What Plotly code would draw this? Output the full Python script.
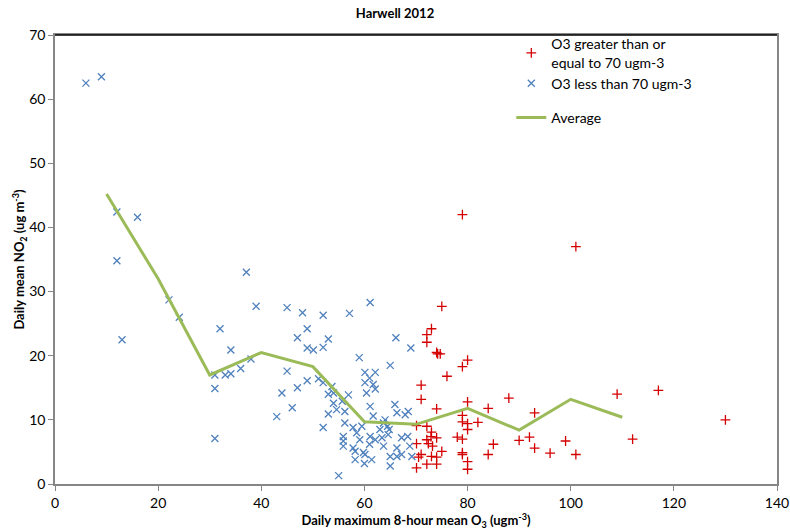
import plotly.graph_objects as go

# O3 >= 70 ugm-3 (red +)
hi_o3 = [79.0, 101.0, 75.0, 80.0, 79.0, 76.0, 74.7, 80.0, 84.0, 88.0, 109.0, 79.0, 79.0, 80.0, 82.0,
         80.0, 78.0, 79.0, 75.0, 79.0, 79.0, 80.0, 80.0, 84.0, 85.0, 90.0, 92.0, 93.0, 93.0, 96.0,
         99.0, 101.0, 117.0, 130.0, 112.0,
         73.0, 72.1, 72.1, 74.0, 74.2, 71.0, 71.0, 74.0, 70.1, 72.1, 73.0, 72.9, 74.0, 72.1, 70.1,
         72.4, 73.2, 71.0, 70.5, 73.0, 74.0, 72.1, 74.0, 70.1]
hi_no2 = [42.0, 37.0, 27.7, 19.3, 18.3, 16.8, 20.3, 12.8, 11.8, 13.4, 14.0, 10.7, 9.7, 9.4, 9.6,
          8.5, 7.3, 7.0, 5.1, 4.9, 4.6, 3.5, 2.3, 4.6, 6.2, 6.8, 7.3, 11.1, 5.6, 4.8,
          6.7, 4.6, 14.6, 10.0, 7.0,
          24.2, 23.3, 22.1, 20.5, 20.3, 15.4, 13.2, 11.7, 9.1, 9.0, 8.1, 7.4, 7.2, 6.9, 6.3,
          6.3, 5.9, 4.6, 4.2, 4.3, 4.2, 3.1, 3.1, 2.5]

# O3 < 70 ugm-3 (blue x)
lo_o3 = [6.0, 9.0, 12.0, 16.0, 12.0, 13.0, 22.1, 24.1, 37.1, 39.0, 45.0, 48.0, 52.0, 32.0, 48.9,
         47.0, 53.0, 34.1, 48.9, 50.1, 52.0, 38.0, 36.0, 31.0, 33.0, 34.1, 31.0, 45.0, 48.9, 51.1,
         52.0, 47.0, 44.0, 46.0, 43.0, 53.0, 54.0, 54.0, 54.6, 53.0, 52.0, 31.0, 55.0,
         61.1, 57.1, 66.1, 69.0, 59.0, 65.0, 60.1, 62.1, 61.0, 60.1, 61.7, 60.4, 62.1, 56.9, 55.7,
         56.2, 56.2, 61.1, 65.9, 68.5, 67.9, 66.3, 61.7, 63.7, 64.0, 63.0, 64.5, 59.5, 57.8, 58.5,
         55.9, 55.9, 55.9, 61.1, 62.1, 63.4, 64.6, 67.2, 68.4, 68.8, 57.8, 59.8, 58.2, 61.0, 63.7,
         66.3, 65.0, 66.3, 67.2, 69.2, 58.2, 61.4, 60.0, 65.0, 60.1, 64.8, 53.7, 59.1]
lo_no2 = [62.5, 63.5, 42.4, 41.6, 34.8, 22.5, 28.7, 26.0, 33.0, 27.7, 27.5, 26.7, 26.3, 24.2, 24.2,
          22.8, 22.6, 20.9, 21.2, 20.9, 21.3, 19.5, 18.0, 17.0, 17.0, 17.2, 14.9, 17.6, 16.1, 16.4,
          15.8, 15.0, 14.2, 11.9, 10.5, 14.0, 14.2, 12.6, 11.6, 10.9, 8.8, 7.1, 1.3,
          28.3, 26.6, 22.8, 21.2, 19.7, 18.5, 17.4, 17.4, 16.5, 15.8, 15.5, 14.2, 14.8, 13.9, 12.9,
          11.3, 9.5, 12.1, 12.4, 11.3, 10.8, 11.1, 10.6, 9.5, 10.0, 8.5, 9.0, 9.0, 8.8, 8.0,
          7.4, 6.7, 5.9, 7.4, 6.9, 7.2, 7.7, 7.2, 7.4, 5.9, 5.6, 4.9, 5.1, 6.2, 5.9,
          5.6, 4.3, 4.3, 4.6, 4.3, 3.8, 3.8, 3.2, 2.8, 4.6, 8.5, 15.2, 6.9]

# Average line
avg_o3 = [10, 20, 30, 40, 50, 60, 70, 80, 90, 100, 110]
avg_no2 = [45.2, 32.0, 17.0, 20.5, 18.3, 9.7, 9.3, 11.8, 8.4, 13.2, 10.4]

x_ticks = [0, 20, 40, 60, 80, 100, 120, 140]
y_ticks = [0, 10, 20, 30, 40, 50, 60, 70]

FONT = "Lato, 'Open Sans', sans-serif"

fig = go.Figure()
fig.add_trace(go.Scatter(
    x=hi_o3, y=hi_no2, mode="markers", name="O3 greater than or<br>equal to 70 ugm-3",
    legendgroup="a",
    marker=dict(symbol="cross-thin", size=7, color="#D40000", line=dict(color="#D40000", width=1.3)),
))
fig.add_trace(go.Scatter(
    x=lo_o3, y=lo_no2, mode="markers", name="O3 less than 70 ugm-3",
    legendgroup="a",
    marker=dict(symbol="x-thin", size=7, color="#4F81BD", line=dict(color="#4F81BD", width=1.3)),
))
fig.add_trace(go.Scatter(
    x=avg_o3, y=avg_no2, mode="lines", name="Average", legendgroup="b",
    line=dict(color="#9BBB59", width=3),
))

fig.update_layout(
    width=790, height=531,
    margin=dict(l=55, r=13, t=35, b=47),
    paper_bgcolor="white", plot_bgcolor="white",
    font=dict(family=FONT, size=14, color="#000000"),
    title=dict(text="<b>Harwell 2012</b>", x=0.5, xref="container", xanchor="center",
               y=0.975, yref="container", yanchor="middle", font=dict(size=13)),
    showlegend=True,
    legend=dict(x=0.632, y=1.015, xanchor="left", yanchor="top", bgcolor="rgba(0,0,0,0)",
                tracegroupgap=13, traceorder="grouped", font=dict(size=14),
                itemwidth=30),
    xaxis=dict(range=[0, 140], tickvals=x_ticks, showgrid=False, zeroline=False,
               showline=True, linecolor="#868686", linewidth=1.5, mirror=True,
               ticks="outside", ticklen=5, tickcolor="#868686", automargin=False,
               title=dict(text="<b>Daily maximum 8-hour mean O<sub>3</sub> (ugm<sup>-3</sup>)</b>",
                          font=dict(size=13), standoff=0)),
    yaxis=dict(range=[0, 70], tickvals=y_ticks, showgrid=False, zeroline=False,
               showline=True, linecolor="#868686", linewidth=1.5, mirror=True,
               ticks="outside", ticklen=5, tickcolor="#868686", automargin=False,
               title=dict(text="<b>Daily mean NO<sub>2</sub> (ug m<sup>-3</sup>)</b>",
                          font=dict(size=13), standoff=0)),
    shapes=[dict(type="line", xref="paper", yref="paper", x0=0, x1=1, y0=1, y1=1,
                 line=dict(color="#000000", width=1.5))],
)

fig.write_html("out.html", config={"displayModeBar": False},
               post_script="document.body.style.margin='0';document.body.style.overflow='hidden';")
